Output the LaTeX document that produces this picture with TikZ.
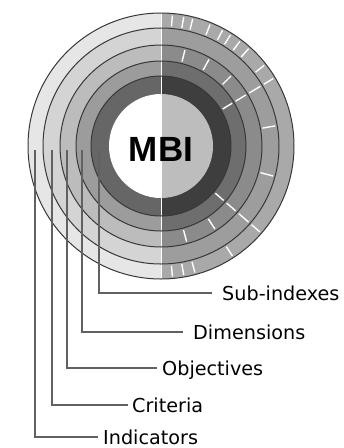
\documentclass[tikz,border=0pt]{standalone}
\usepackage{fontspec}
\setmainfont{DejaVu Sans}
\newfontfamily\mbifont{Liberation Sans}

\definecolor{leftA}{HTML}{E6E6E6}
\definecolor{leftB}{HTML}{D4D4D4}
\definecolor{leftC}{HTML}{BCBCBC}
\definecolor{leftD}{HTML}{9C9C9C}
\definecolor{leftE}{HTML}{666666}
\definecolor{rightA}{HTML}{A9A9A9}
\definecolor{rightB}{HTML}{9D9D9D}
\definecolor{rightC}{HTML}{8B8B8B}
\definecolor{rightD}{HTML}{6E6E6E}
\definecolor{rightE}{HTML}{3E3E3E}
\definecolor{rightF}{HTML}{BDBDBD}

\begin{document}
\begin{tikzpicture}[x=1pt, y=-1pt,
    itemtext/.style={anchor=west, inner sep=0pt, font=\fontsize{19.2}{20}\selectfont, text height=14pt, text depth=0pt},
    notch/.style={white, line width=1.4pt},
    ringline/.style={draw=black!78, line width=1pt},
    leader/.style={draw=black!62, line width=1.2pt}]
    
    \useasboundingbox (0,0) rectangle (344,448);
    \coordinate (c) at (161,146);
    
    % left half of the rings
    \begin{scope}
        \clip (0,0) rectangle (161,448);
        \fill[leftA] (c) circle[radius=133];
        \fill[leftB] (c) circle[radius=118];
        \fill[leftC] (c) circle[radius=101];
        \fill[leftD] (c) circle[radius=85];
        \fill[leftE] (c) circle[radius=70];
        \fill[white] (c) circle[radius=52];
    \end{scope}
    
    % right half of the rings
    \begin{scope}
        \clip (161,0) rectangle (344,448);
        \fill[rightA] (c) circle[radius=133];
        \fill[rightB] (c) circle[radius=118];
        \fill[rightC] (c) circle[radius=101];
        \fill[rightD] (c) circle[radius=85];
        \fill[rightE] (c) circle[radius=70];
        \fill[rightF] (c) circle[radius=52];
    \end{scope}
    
    % white notches on the right half
    \foreach \a in {85,80,76,68,62,58,53,48,38,31,-41,-57,-75,-80,-85}
        \draw[notch] (c) ++(-\a:120) -- ++(-\a:11);
    \foreach \a in {31,10,-15,-41}
        \draw[notch] (c) ++(-\a:103) -- ++(-\a:13);
    \foreach \a in {76,61,45,31,-41,-57,-75}
        \draw[notch] (c) ++(-\a:87) -- ++(-\a:12);
    \foreach \a in {31,-41}
        \draw[notch] (c) ++(-\a:72) -- ++(-\a:11);
    
    \draw[white, line width=0.8pt] (161,13) -- (161,279);
    
    \draw[ringline] (c) circle[radius=133];
    \draw[ringline] (c) circle[radius=118];
    \draw[ringline] (c) circle[radius=101];
    \draw[ringline] (c) circle[radius=85];
    \draw[ringline] (c) circle[radius=70];
    
    \node[font=\mbifont\bfseries\fontsize{35}{35}\selectfont, inner sep=0pt] (mbi) at (161,149.5) {MBI};
    
    % labels and their leaders
    \coordinate (subr) at (99,150);
    \coordinate (dimr) at (82,150);
    \coordinate (objr) at (67,150);
    \coordinate (crir) at (52,150);
    \coordinate (indr) at (35,150);
    
    \node[itemtext] (sub) at (222,293) {Sub-indexes};
    \node[itemtext] (dim) at (193,332) {Dimensions};
    \node[itemtext] (obj) at (162,368) {Objectives};
    \node[itemtext] (cri) at (132,405) {Criteria};
    \node[itemtext] (ind) at (103,437) {Indicators};
    
    \draw[leader] (subr) |- ([xshift=-10pt]sub.west);
    \draw[leader] (dimr) |- ([xshift=-10pt]dim.west);
    \draw[leader] (objr) |- ([xshift=-5pt]obj.west);
    \draw[leader] (crir) |- ([xshift=-4pt]cri.west);
    \draw[leader] (indr) |- ([xshift=-5pt]ind.west);
    
\end{tikzpicture}
\end{document}
